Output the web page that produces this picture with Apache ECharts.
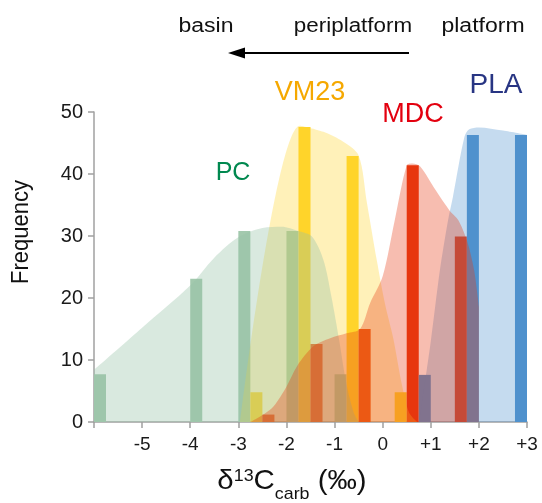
<!DOCTYPE html>
<html>
<head>
<meta charset="utf-8">
<script src="https://cdn.jsdelivr.net/npm/echarts@6/dist/echarts.min.js"></script>
<style>html,body{margin:0;padding:0;background:#fff;}#chart{width:542px;height:503px;}</style>
</head>
<body>
<div id="chart"></div>
<script>
// ---- data ----
const binWidth = 0.25;
const xTicks = [-6, -5, -4, -3, -2, -1, 0, 1, 2, 3];
const yTicks = [0, 10, 20, 30, 40, 50];

const pcBins = [-6, -4, -3, -2, -1];
const pcFreq = [7.7, 23.1, 30.8, 30.8, 7.7];
const vmBins = [-2.75, -1.75, -0.75, 0.25];
const vmFreq = [4.8, 47.6, 42.9, 4.8];
const mdcBins = [-2.5, -1.5, -0.5, 0.5, 1.5];
const mdcFreq = [1.2, 12.6, 15.0, 41.4, 29.9];
const plaBins = [0.75, 1.75, 2.75];
const plaFreq = [7.6, 46.3, 46.3];

// envelope outlines (traced)
const pcEnvX = [-6, -5, -4, -3.5, -3, -2.5, -2.1, -1.75, -1.47, -1.23, -1.06, -0.9, -0.75, -0.6, -0.5];
const pcEnvY = [8.4, 15.2, 22, 26.5, 29.8, 31.3, 31.5, 30.8, 29.9, 26.1, 20, 13, 6, 1.5, 0];
const vmEnvX = [-2.96, -1.72, -1.23, -0.82, -0.5, -0.33, -0.12, 0.05, 0.22, 0.4, 0.55, 0.72];
const vmEnvY = [0, 47.8, 46.8, 45.2, 43, 35.5, 26, 19, 13.5, 6, 1.5, 0];
const mdcEnvX = [-2.75, -2.48, -2.27, -2, -1.78, -1.44, -1.09, -0.75, -0.47, -0.26, 0, 0.25, 0.5, 0.62, 0.78, 1.1, 1.4, 1.57, 1.75, 1.9, 2.0];
const mdcEnvY = [0, 1.2, 2.5, 5.7, 9, 12.2, 13.5, 14.3, 15, 19.2, 23.5, 32.5, 41.4, 41.7, 41.2, 37.4, 34, 32.6, 29.3, 24.5, 18.6];
const plaEnvX = [0.76, 1.0, 1.19, 1.36, 1.46, 1.7, 1.8, 2.0, 2.5, 3.0];
const plaEnvY = [0, 13, 24.5, 32.6, 36.3, 46, 47.2, 47.5, 47, 46.3];

const groupNames = ['PC', 'VM23', 'MDC', 'PLA'];

// ---- build ----
function pairs(a, b) { return a.map((v, i) => [v, b[i]]); }

function barSeries(name, bins, freq, color) {
  return {
    name: name,
    type: 'custom',
    z: 2,
    data: pairs(bins, freq),
    renderItem: function (params, api) {
      const x0 = api.value(0), h = api.value(1);
      const p0 = api.coord([x0, h]);
      const p1 = api.coord([x0 + binWidth, 0]);
      return {
        type: 'rect',
        shape: { x: p0[0], y: p0[1], width: p1[0] - p0[0], height: p1[1] - p0[1] },
        style: { fill: color }
      };
    }
  };
}

function envSeries(name, xs, ys, color) {
  return {
    name: name + ' envelope',
    type: 'line',
    z: 3,
    smooth: 0.3,
    symbol: 'none',
    silent: true,
    data: pairs(xs, ys),
    lineStyle: { width: 0, opacity: 0 },
    areaStyle: { color: color, opacity: 1 }
  };
}

const FONT = '"Liberation Sans", Arial, Helvetica, sans-serif';

const chart = echarts.init(document.getElementById('chart'), null, { renderer: 'canvas' });

chart.setOption({
  animation: false,
  backgroundColor: '#ffffff',
  grid: { left: 94, right: 15, top: 112, bottom: 81, containLabel: false },
  xAxis: {
    type: 'value',
    min: xTicks[0], max: xTicks[xTicks.length - 1], interval: 1,
    axisLine: { onZero: false, lineStyle: { color: '#a0a0a0', width: 1.5 } },
    axisTick: { show: true, length: 6, lineStyle: { color: '#a0a0a0', width: 1.5 } },
    splitLine: { show: false },
    axisLabel: {
      margin: 13, fontSize: 19, color: '#1a1a1a', fontFamily: FONT,
      formatter: function (v) { if (v === xTicks[0]) return ''; return v > 0 ? '+' + v : String(v); }
    }
  },
  yAxis: {
    type: 'value',
    min: yTicks[0], max: yTicks[yTicks.length - 1], interval: 10,
    axisLine: { show: true, onZero: false, lineStyle: { color: '#a0a0a0', width: 1.5 } },
    axisTick: { show: true, length: 6, lineStyle: { color: '#a0a0a0', width: 1.5 } },
    splitLine: { show: false },
    axisLabel: { margin: 11, fontSize: 20, color: '#1a1a1a', fontFamily: FONT }
  },
  series: [
    barSeries(groupNames[0], pcBins, pcFreq, '#a3c9ae'),
    barSeries(groupNames[1], vmBins, vmFreq, '#ffd42a'),
    barSeries(groupNames[2], mdcBins, mdcFreq, '#e8360e'),
    barSeries(groupNames[3], plaBins, plaFreq, '#4f91cd'),
    envSeries(groupNames[3], plaEnvX, plaEnvY, 'rgba(79,145,205,0.33)'),
    envSeries(groupNames[1], vmEnvX, vmEnvY, 'rgba(255,212,42,0.33)'),
    envSeries(groupNames[0], pcEnvX, pcEnvY, 'rgba(150,195,165,0.36)'),
    envSeries(groupNames[2], mdcEnvX, mdcEnvY, 'rgba(232,54,14,0.33)')
  ],
  graphic: [
    { type: 'text', x: 206, y: 26, scaleX: 1.15, style: { text: 'basin', fontSize: 20, fontFamily: FONT, fill: '#111', align: 'center', verticalAlign: 'middle' } },
    { type: 'text', x: 353, y: 26, scaleX: 1.12, style: { text: 'periplatform', fontSize: 20, fontFamily: FONT, fill: '#111', align: 'center', verticalAlign: 'middle' } },
    { type: 'text', x: 483, y: 26, scaleX: 1.15, style: { text: 'platform', fontSize: 20, fontFamily: FONT, fill: '#111', align: 'center', verticalAlign: 'middle' } },
    { type: 'line', shape: { x1: 240, y1: 53, x2: 409, y2: 53 }, style: { stroke: '#000', lineWidth: 2 } },
    { type: 'polygon', shape: { points: [[228, 53], [245, 47.5], [245, 58.5]] }, style: { fill: '#000' } },
    { type: 'text', x: 310, y: 93, z: 10, style: { text: groupNames[1], fontSize: 27, fontFamily: FONT, fill: '#f5a800', align: 'center', verticalAlign: 'middle' } },
    { type: 'text', x: 413, y: 115, z: 10, style: { text: groupNames[2], fontSize: 27, fontFamily: FONT, fill: '#e3000f', align: 'center', verticalAlign: 'middle' } },
    { type: 'text', x: 496, y: 85, z: 10, style: { text: groupNames[3], fontSize: 28, fontFamily: FONT, fill: '#283583', align: 'center', verticalAlign: 'middle' } },
    { type: 'text', x: 233, y: 173, z: 10, style: { text: groupNames[0], fontSize: 25, fontFamily: FONT, fill: '#00884f', align: 'center', verticalAlign: 'middle' } },
    { type: 'text', x: 21, y: 232, rotation: Math.PI / 2, scaleY: 1.12, style: { text: 'Frequency', fontSize: 22, fontFamily: FONT, fill: '#111', align: 'center', verticalAlign: 'middle' } },
    { type: 'text', x: 292, y: 481, scaleX: 1.05, style: {
        text: '{m|δ}{sup|13}{m|C}{sub|carb}{m| (‰)}',
        align: 'center', verticalAlign: 'middle', fill: '#111', fontFamily: FONT,
        rich: {
          m: { fontSize: 28, fontFamily: FONT, fill: '#111' },
          sup: { fontSize: 17, fontFamily: FONT, fill: '#111', padding: [0, 0, 9, 0] },
          sub: { fontSize: 17, fontFamily: FONT, fill: '#111', padding: [26, 0, 0, 0] }
        }
      } }
  ]
});
</script>
</body>
</html>
